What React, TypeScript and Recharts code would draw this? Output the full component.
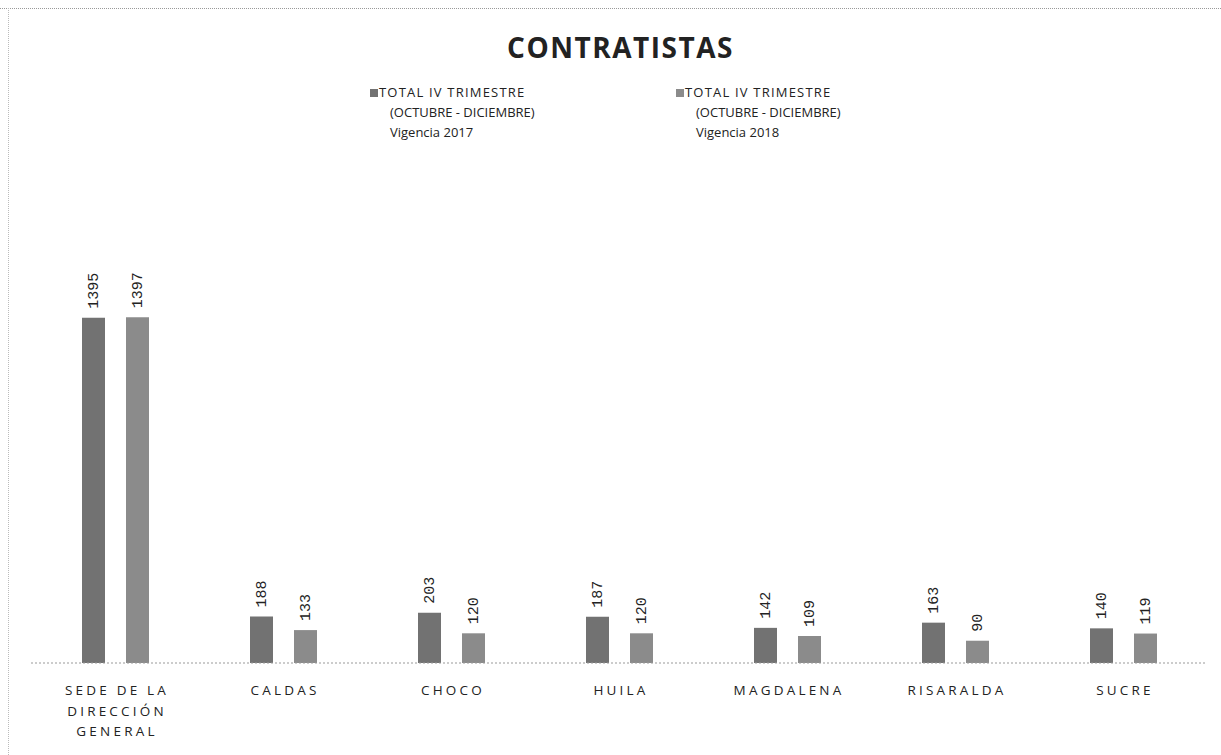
import { BarChart, Bar, XAxis, YAxis, LabelList } from 'recharts';

const categories = ['SEDE DE LA DIRECCIÓN GENERAL', 'CALDAS', 'CHOCO', 'HUILA', 'MAGDALENA', 'RISARALDA', 'SUCRE'];
const vigencia2017 = [1395, 188, 203, 187, 142, 163, 140];
const vigencia2018 = [1397, 133, 120, 120, 109, 90, 119];
const seriesNames = [
    ['TOTAL IV TRIMESTRE', '(OCTUBRE - DICIEMBRE)', 'Vigencia 2017'],
    ['TOTAL IV TRIMESTRE', '(OCTUBRE - DICIEMBRE)', 'Vigencia 2018'],
];
const tickLines: Record<string, string[]> = {
    'SEDE DE LA DIRECCIÓN GENERAL': ['SEDE DE LA', 'DIRECCIÓN', 'GENERAL'],
};

const data = categories.map((name, i) => ({ name, v2017: vigencia2017[i], v2018: vigencia2018[i] }));

const colors = ['#727272', '#8b8b8b'];
const font = '"Open Sans", "Liberation Sans", sans-serif';

function CategoryTick({ x, y, payload }: any) {
    const lines = tickLines[payload.value] || [payload.value];
    return (
        <g transform={`translate(${x},${y})`}>
            {lines.map((l, i) => (
                <text
                    key={i}
                    x={2}
                    y={24 + i * 20.5}
                    textAnchor="middle"
                    fontSize={13.5}
                    letterSpacing={3.2}
                    fill="#222"
                    fontFamily={font}
                >
                    {l}
                </text>
            ))}
        </g>
    );
}

function ValueLabel({ x, y, width, value }: any) {
    const cx = x + width / 2 + 5;
    const cy = y - 9;
    return (
        <text
            x={cx}
            y={cy}
            transform={`rotate(-90 ${cx} ${cy})`}
            fontSize={15}
            fill="#222"
            fontFamily='"Liberation Mono", "DejaVu Sans Mono", monospace'
        >
            {value}
        </text>
    );
}

function LegendBox() {
    const pos = [370, 676];
    return (
        <>
            {seriesNames.map((lines, i) => (
                <div
                    key={i}
                    style={{
                        position: 'absolute',
                        left: pos[i],
                        top: 82,
                        fontFamily: font,
                        fontSize: 13,
                        lineHeight: '20px',
                        color: '#222',
                    }}
                >
                    <span
                        style={{
                            display: 'inline-block',
                            width: 8,
                            height: 8,
                            background: colors[i],
                            marginRight: 1,
                        }}
                    />
                    <span style={{ letterSpacing: 1.2 }}>{lines[0]}</span>
                    <div style={{ paddingLeft: 20 }}>{lines[1]}</div>
                    <div style={{ paddingLeft: 20 }}>{lines[2]}</div>
                </div>
            ))}
        </>
    );
}

export default function App() {
    return (
        <div style={{ position: 'absolute', left: 0, top: 0, width: 1221, height: 755, background: '#fff' }}>
            <div style={{ position: 'absolute', left: 0, top: 8, width: 1221, borderTop: '1px dotted #999' }} />
            <div style={{ position: 'absolute', left: 8, top: 8, height: 747, borderLeft: '1px dotted #bbb' }} />
            <div
                style={{
                    position: 'absolute',
                    left: 10,
                    top: 28,
                    width: 1221,
                    textAlign: 'center',
                    fontFamily: font,
                    fontWeight: 700,
                    fontSize: 28,
                    letterSpacing: 1.5,
                    color: '#222',
                }}
            >
                CONTRATISTAS
            </div>
            <LegendBox />
            <BarChart
                width={1221}
                height={755}
                data={data}
                margin={{ top: 267, right: 14, left: 31, bottom: 12 }}
                barSize={23}
                barGap={21}
                style={{ position: 'absolute', left: 0, top: 0 }}
            >
                <XAxis
                    dataKey="name"
                    height={80}
                    interval={0}
                    tick={<CategoryTick />}
                    tickLine={false}
                    axisLine={{ stroke: '#999', strokeDasharray: '2 2' }}
                />
                <YAxis hide domain={[0, 1600]} />
                <Bar dataKey="v2017" fill={colors[0]} isAnimationActive={false}>
                    <LabelList dataKey="v2017" content={<ValueLabel />} />
                </Bar>
                <Bar dataKey="v2018" fill={colors[1]} isAnimationActive={false}>
                    <LabelList dataKey="v2018" content={<ValueLabel />} />
                </Bar>
            </BarChart>
        </div>
    );
}
